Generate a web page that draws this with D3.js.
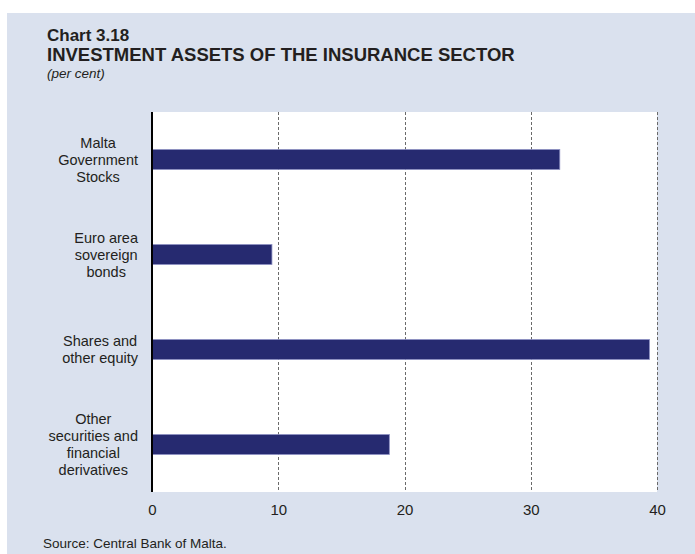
<!DOCTYPE html>
<html>
<head>
<meta charset="utf-8">
<script src="https://cdn.jsdelivr.net/npm/d3@7"></script>
<style>
  body { margin: 0; background: #fff; }
  text { font-family: "Liberation Sans", Arial, sans-serif; }
</style>
</head>
<body>
<script>
const categories = [
  ['Malta', 'Government', 'Stocks'],
  ['Euro area', 'sovereign', 'bonds'],
  ['Shares and', 'other equity'],
  ['Other', 'securities and', 'financial', 'derivatives']
];
const values = [32.3, 9.5, 39.4, 18.8];
const xTicks = [0, 10, 20, 30, 40];

const width = 695;
const height = 554;
const plot = { left: 152, right: 657, top: 112, bottom: 492 };

const panel = '#dae1ee';
const barFill = '#262a70';
const barEdge = '#8c8fc2';
const textColor = '#231f20';

const svg = d3.select('body').append('svg')
  .attr('width', width)
  .attr('height', height);

svg.append('rect')
  .attr('x', 7).attr('y', 13)
  .attr('width', width - 7).attr('height', height - 13)
  .attr('fill', panel);

// titles
svg.append('text')
  .attr('x', 47).attr('y', 41)
  .attr('font-size', 17).attr('font-weight', 'bold')
  .attr('fill', textColor)
  .text('Chart 3.18');
svg.append('text')
  .attr('x', 47).attr('y', 61)
  .attr('font-size', 18.5).attr('font-weight', 'bold')
  .attr('fill', textColor)
  .text('INVESTMENT ASSETS OF THE INSURANCE SECTOR');
svg.append('text')
  .attr('x', 47).attr('y', 78)
  .attr('font-size', 13.5).attr('font-style', 'italic')
  .attr('fill', textColor)
  .text('(per cent)');

const x = d3.scaleLinear()
  .domain([0, 40])
  .range([plot.left, plot.right]);

const y = d3.scaleBand()
  .domain(d3.range(categories.length))
  .range([plot.top, plot.bottom])
  .paddingInner(0.79)
  .paddingOuter(0.395);

svg.append('rect')
  .attr('x', plot.left).attr('y', plot.top)
  .attr('width', plot.right - plot.left)
  .attr('height', plot.bottom - plot.top)
  .attr('fill', '#fff');

// dashed gridlines
svg.append('g')
  .selectAll('line')
  .data(xTicks.filter(d => d > 0))
  .join('line')
  .attr('x1', d => Math.round(x(d)) + 0.5)
  .attr('x2', d => Math.round(x(d)) + 0.5)
  .attr('y1', plot.top)
  .attr('y2', plot.bottom)
  .attr('stroke', '#6a6a6a')
  .attr('stroke-width', 1)
  .attr('stroke-dasharray', '3,2');

// bars
svg.append('g')
  .selectAll('rect')
  .data(values)
  .join('rect')
  .attr('x', x(0))
  .attr('y', (d, i) => y(i))
  .attr('width', d => x(d) - x(0))
  .attr('height', y.bandwidth())
  .attr('fill', barFill)
  .attr('stroke', barEdge)
  .attr('stroke-width', 0.8);

// zero axis line
svg.append('line')
  .attr('x1', x(0)).attr('x2', x(0))
  .attr('y1', plot.top).attr('y2', plot.bottom)
  .attr('stroke', '#000')
  .attr('stroke-width', 2);

// x tick labels
const xAxis = svg.append('g')
  .attr('transform', `translate(0,${plot.bottom})`)
  .call(d3.axisBottom(x).tickValues(xTicks).tickSize(0).tickPadding(12));
xAxis.select('.domain').remove();
xAxis.selectAll('text')
  .attr('font-size', 15)
  .attr('font-family', '"Liberation Sans", Arial, sans-serif')
  .attr('fill', textColor)
  .attr('dy', '0.71em');

// category labels: lines centred in a block whose right edge sits at 138
const lineH = 17;
const labels = svg.append('g');
categories.forEach((lines, i) => {
  const g = labels.append('g');
  const cy = y(i) + y.bandwidth() / 2;
  const t = g.selectAll('text')
    .data(lines)
    .join('text')
    .attr('font-size', 14.5)
    .attr('fill', textColor)
    .attr('text-anchor', 'middle')
    .attr('y', (d, j) => cy + (j - (lines.length - 1) / 2) * lineH + 5)
    .text(d => d);
  let maxW = 0;
  t.each(function () { maxW = Math.max(maxW, this.getComputedTextLength()); });
  t.attr('x', 138 - maxW / 2);
});

svg.append('text')
  .attr('x', 43).attr('y', 548)
  .attr('font-size', 13.5)
  .attr('fill', textColor)
  .text('Source: Central Bank of Malta.');
</script>
</body>
</html>
